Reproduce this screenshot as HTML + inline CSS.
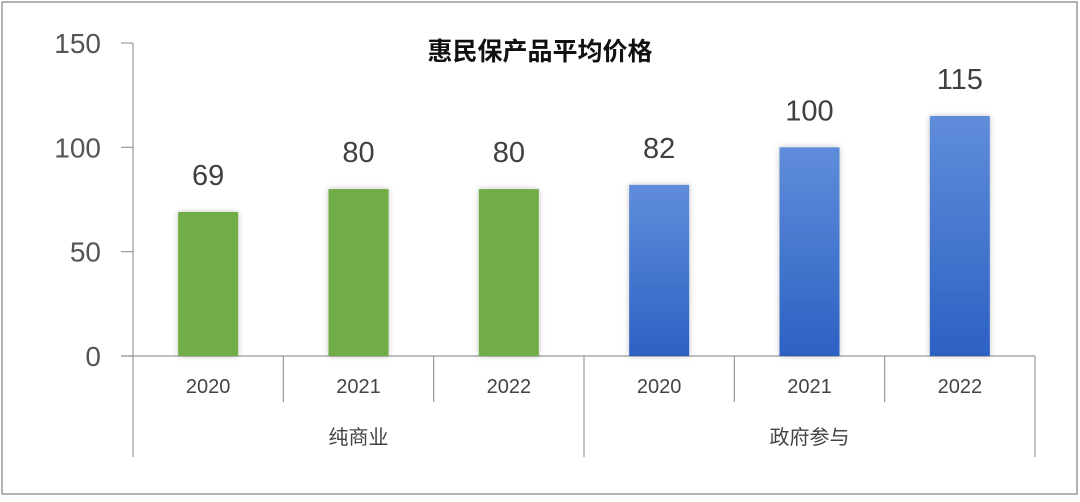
<!DOCTYPE html>
<html><head><meta charset="utf-8"><style>
body{margin:0;background:#fff;}
svg text{font-family:"Liberation Sans","Noto Sans CJK SC",sans-serif;}
</style></head><body>
<svg width="1080" height="497" viewBox="0 0 1080 497">
<defs>
<linearGradient id="bg" x1="0" y1="0" x2="0" y2="1"><stop offset="0" stop-color="#5F8DDA"/><stop offset="1" stop-color="#2C61C3"/></linearGradient>
<filter id="sh" x="-30%" y="-10%" width="160%" height="120%"><feDropShadow dx="0" dy="0" stdDeviation="3" flood-color="#000" flood-opacity="0.25"/></filter>
</defs>
<rect x="2" y="2" width="1075" height="492" fill="#fff" stroke="#9a9a9a" stroke-width="1.5"/>
<text x="540" y="60" text-anchor="middle" font-size="25" font-weight="bold" fill="#111">惠民保产品平均价格</text>
<g id="axes"></g><g id="bars"></g><g id="labels"></g>
</svg>
<script>
const years=["2020","2021","2022","2020","2021","2022"];
const groups=["纯商业","政府参与"];
const values=[69,80,80,82,100,115];
const ticks=[0,50,100,150];
const NS="http://www.w3.org/2000/svg";
const x0=133,x1=1035,y0=356,yTop=43,maxV=150;
const colW=(x1-x0)/years.length;
function y(v){return y0-(v/maxV)*(y0-yTop);}
function xc(i){return x0+colW*(i+0.5);}
function mk(tag,attrs,parent){const e=document.createElementNS(NS,tag);for(const k in attrs)e.setAttribute(k,attrs[k]);parent.appendChild(e);return e;}
const ax=document.getElementById('axes'),bg=document.getElementById('bars'),lb=document.getElementById('labels');
let l=mk('line',{x1:x0,y1:yTop,x2:x0,y2:457,stroke:'#999','stroke-width':1.2},ax);


ticks.forEach(t=>{
 const tl=mk('line',{x1:121,y1:y(t),x2:x0,y2:y(t),stroke:'#999','stroke-width':1.2},ax);
 
 
 const tx=mk('text',{x:101,y:y(t)+10,'text-anchor':'end','font-size':28,fill:'#555'},ax);
 tx.textContent=t;
 
 
});
l=mk('line',{x1:121,y1:y0,x2:x1,y2:y0,stroke:'#999','stroke-width':1.2},ax);


for(let i=1;i<=years.length;i++){
 const xx=x0+colW*i;const outer=(i%3===0);
 const s=mk('line',{x1:xx,y1:y0,x2:xx,y2:outer?457:402,stroke:'#999','stroke-width':1.2},ax);
 
 
}
years.forEach((yr,i)=>{
 const t=mk('text',{x:xc(i),y:393,'text-anchor':'middle','font-size':20,fill:'#444'},lb);
 t.textContent=yr;
 
 
});
groups.forEach((g,j)=>{
 const t=mk('text',{x:x0+colW*3*(j+0.5),y:444,'text-anchor':'middle','font-size':20,fill:'#444'},lb);
 t.textContent=g;
 
 
});
values.forEach((v,i)=>{
 const r=mk('rect',{x:xc(i)-30,y:y(v),width:60,height:y0-y(v),fill:i<3?'#70AD47':'url(#bg)',filter:'url(#sh)'},bg);
 
 
 const t=mk('text',{x:xc(i),y:y(v)-27,'text-anchor':'middle','font-size':29,fill:'#404040'},lb);
 t.textContent=v;
 
 
});
</script>
</body></html>
